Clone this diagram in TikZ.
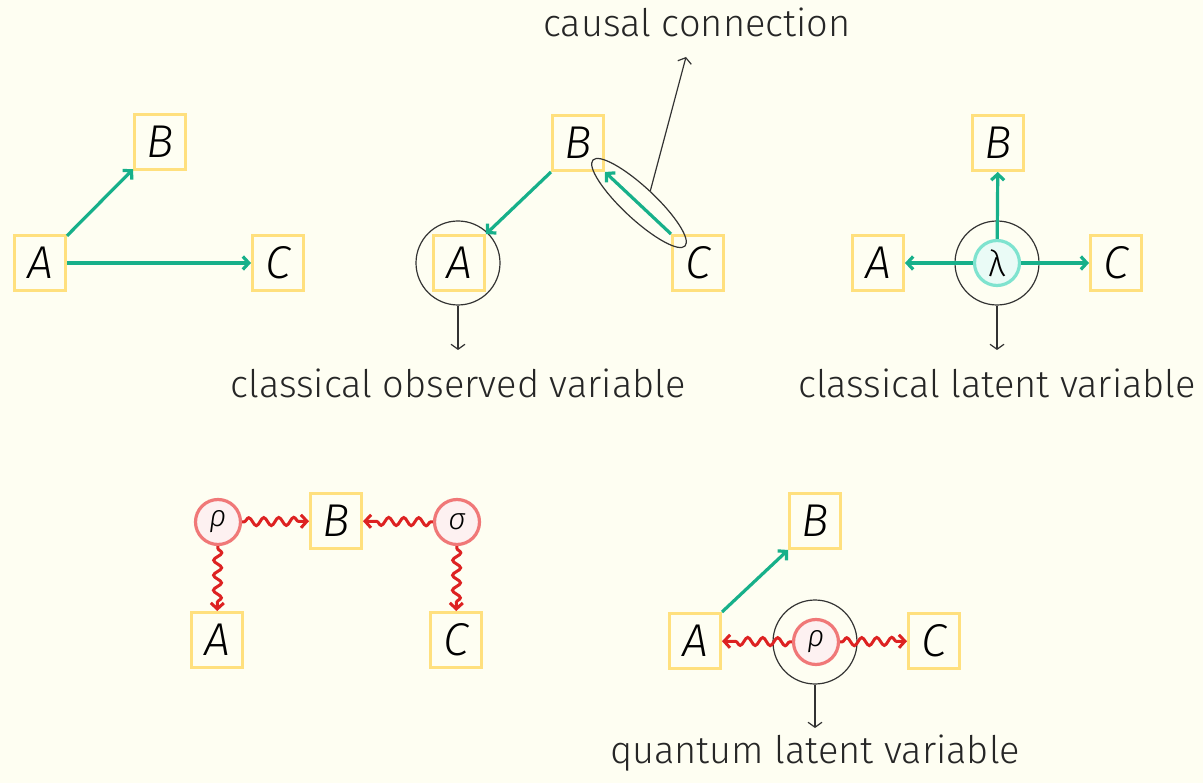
\documentclass[tikz,border=0pt]{standalone}
\usepackage{fontspec}
\setmainfont[UprightFont=* Light, ItalicFont=* Light Italic]{Fira Sans}
\usetikzlibrary{arrows.meta,decorations.pathmorphing,shapes.geometric,calc}
\definecolor{bg}{HTML}{FEFEF2}
\definecolor{ybox}{HTML}{FFE07E}
\definecolor{grn}{HTML}{17B08A}
\definecolor{qred}{HTML}{DD2222}
\definecolor{qring}{HTML}{F07878}
\definecolor{qfill}{HTML}{FDF1F1}
\definecolor{lring}{HTML}{7FE3CF}
\definecolor{lfill}{HTML}{EAFBF6}
\definecolor{dark}{HTML}{333333}
\tikzset{
  var/.style={draw=ybox, line width=3pt, minimum width=51pt, minimum height=55pt, inner sep=0pt,
    font=\fontsize{46}{46}\selectfont\itshape},
  carrow/.style={draw=grn, line width=3.2pt, -{Straight Barb[length=6pt,width=13pt]}},
  qarrow/.style={draw=qred, line width=3pt, decorate,
    decoration={snake, amplitude=4pt, segment length=15pt, pre length=2pt, post length=8pt},
    -{Straight Barb[length=6pt,width=13pt]}},
  thinarrow/.style={draw=dark, line width=1.2pt, -{Straight Barb[length=5pt,width=14pt]}},
  ocirc/.style={circle, draw=dark, line width=1.2pt, minimum size=84pt, inner sep=0pt},
  latc/.style={circle, draw=lring, fill=lfill, line width=3.2pt, minimum size=45pt, inner sep=0pt,
    font=\fontsize{36}{36}\selectfont},
  quc/.style={circle, draw=qring, fill=qfill, line width=3.2pt, minimum size=45pt, inner sep=0pt,
    font=\fontsize{30}{30}\selectfont\itshape},
  lbl/.style={anchor=base, inner sep=0pt, font=\fontsize{38}{38}\selectfont, text=black!85},
  ell/.style={ellipse, draw=dark, line width=1.2pt, minimum width=126pt, minimum height=32pt, inner sep=0pt, rotate=-43}
}
\begin{document}
\begin{tikzpicture}[x=1pt,y=-1pt]
\fill[bg] (0,0) rectangle (1203,783);
\useasboundingbox (0,0) rectangle (1203,783);
% panel 1
\node[var] (A1) at (40,263) {A};
\node[var] (B1) at (160,142) {B};
\node[var] (C1) at (278,263) {C};
\draw[carrow] (A1) -- (B1);
\draw[carrow] (A1) -- (C1);
% panel 2
\node[var] (A2) at (459,263) {A};
\node[var] (B2) at (578,143) {B};
\node[var] (C2) at (698,263) {C};
\node[ocirc] (O2) at (458,263) {};
\draw[carrow] (B2.south west) -- (A2.north east);
\draw[carrow] (C2.north west) -- (B2.south east);
\node[ell] (E2) at (639,203) {};
\node[lbl] (T2) at (697,37) {causal connection};
\coordinate (t2) at (686,57);
\draw[thinarrow] (E2.north) -- (t2);
\node[lbl] (L2) at (458,398) {classical observed variable};
\coordinate (l2) at (458,350);
\draw[thinarrow] (O2.south) -- (l2);
% panel 3
\node[var] (A3) at (878,263) {A};
\node[var] (B3) at (998,143) {B};
\node[var] (C3) at (1116,263) {C};
\node[ocirc] (O3) at (997,263) {};
\node[latc] (lam) at (997,263) {λ};
\draw[carrow] (lam) -- (B3);
\draw[carrow] (lam) -- (A3);
\draw[carrow] (lam) -- (C3);
\node[lbl] (L3) at (997,398) {classical latent variable};
\coordinate (l3) at (997,350);
\draw[thinarrow] (O3.south) -- (l3);
% panel 4
\node[var] (A4) at (217,640) {A};
\node[var] (B4) at (336,521) {B};
\node[var] (C4) at (456,640) {C};
\node[quc] (rho4) at (218,522) {ρ};
\node[quc] (sig4) at (457,522) {σ};
\draw[qarrow] (rho4) -- (B4);
\draw[qarrow] (sig4) -- (B4);
\draw[qarrow] (rho4) -- (A4);
\draw[qarrow] (sig4) -- (C4);
% panel 5
\node[var] (A5) at (695,641) {A};
\node[var] (B5) at (815,521) {B};
\node[var] (C5) at (934,641) {C};
\node[ocirc] (O5) at (815,642) {};
\node[quc] (rho5) at (816,642) {ρ};
\draw[carrow] (A5.north east) -- (B5.south west);
\draw[qarrow] (rho5) -- (A5);
\draw[qarrow] (rho5) -- (C5);
\node[lbl] (L5) at (815,763) {quantum latent variable};
\coordinate (l5) at (815,728);
\draw[thinarrow] (O5.south) -- (l5);
\end{tikzpicture}
\end{document}
